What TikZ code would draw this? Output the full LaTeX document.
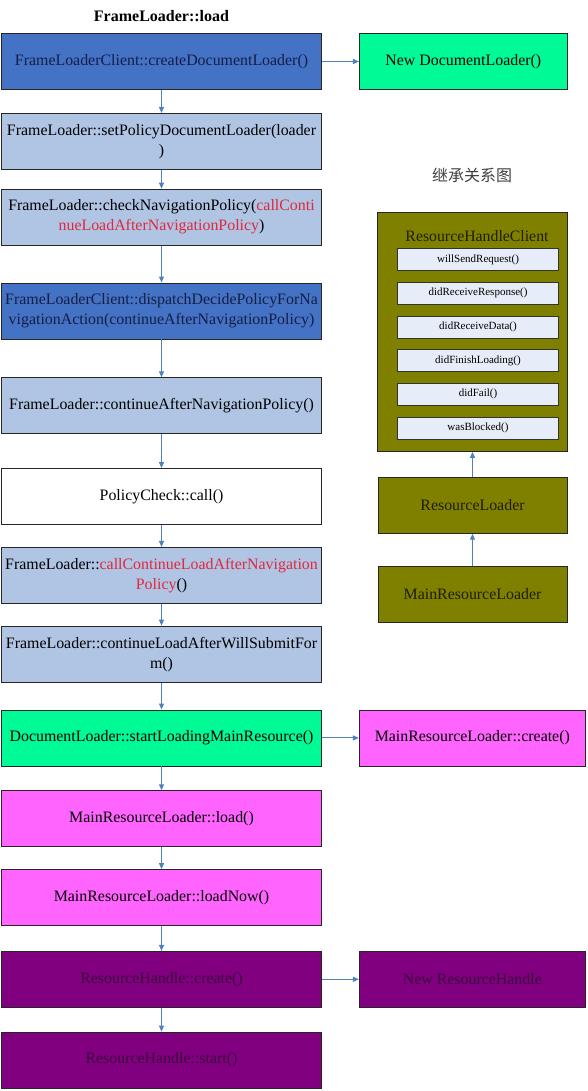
\documentclass[tikz,border=0pt]{standalone}
\usepackage{fontspec}
\setmainfont{Liberation Serif}
\newfontfamily\cjkfont{Noto Sans CJK SC}
\usetikzlibrary{arrows.meta,positioning}

\definecolor{darkblue}{RGB}{68,114,196}
\definecolor{lightblue}{RGB}{176,196,228}
\definecolor{springgreen}{RGB}{0,250,150}
\definecolor{pinkmag}{RGB}{255,100,255}
\definecolor{deeppurple}{RGB}{128,0,128}
\definecolor{olivebox}{RGB}{128,128,0}
\definecolor{methodfill}{RGB}{230,236,248}
\definecolor{arrowblue}{RGB}{79,129,189}
\definecolor{callred}{RGB}{225,40,60}

\begin{document}
\begin{tikzpicture}[x=1pt, y=-1pt,
    node distance=23pt,
    box/.style={draw=black!85, line width=0.8pt, minimum width=320pt,
                minimum height=56pt, inner sep=1pt, align=center,
                font=\fontsize{15.9}{20}\selectfont},
    darkbox/.style={box, fill=darkblue, text={rgb,255:red,20;green,30;blue,70}},
    lightbox/.style={box, fill=lightblue},
    plainbox/.style={box, fill=white},
    greenbox/.style={box, fill=springgreen},
    pinkbox/.style={box, fill=pinkmag},
    purplebox/.style={box, fill=deeppurple, text={rgb,255:red,60;green,0;blue,60}},
    olive/.style={box, fill=olivebox, minimum width=189pt, text={rgb,255:red,30;green,30;blue,0}},
    method/.style={draw=black!80, line width=0.7pt, fill=methodfill, minimum width=161pt,
                   minimum height=22pt, inner sep=1pt, font=\fontsize{11}{12}\selectfont},
    arr/.style={-{Triangle[length=6pt,width=5pt]}, line width=1.1pt, draw=arrowblue}
]
    \useasboundingbox (0,0) rectangle (587,1091);

    % main call sequence
    \node[darkbox] (createdl) at (161.5,61.5) {FrameLoaderClient::createDocumentLoader()};
    \node[font=\bfseries\fontsize{16}{18}\selectfont, above=8pt of createdl] (title) {FrameLoader::load};
    \node[lightbox, below=23pt of createdl] (setpolicy) {FrameLoader::setPolicyDocumentLoader(loader\\)};
    \node[lightbox, below=19pt of setpolicy] (checknav) {FrameLoader::checkNavigationPolicy(\textcolor{callred}{callConti}\\\textcolor{callred}{nueLoadAfterNavigationPolicy})};
    \node[darkbox, below=37pt of checknav] (dispatch) {FrameLoaderClient::dispatchDecidePolicyForNa\\vigationAction(continueAfterNavigationPolicy)};
    \node[lightbox, below=38pt of dispatch] (contnav) {FrameLoader::continueAfterNavigationPolicy()};
    \node[plainbox, below=34pt of contnav] (policycall) {PolicyCheck::call()};
    \node[lightbox, below=22pt of policycall] (callcont) {FrameLoader::\textcolor{callred}{callContinueLoadAfterNavigation}\\\textcolor{callred}{Policy}()};
    \node[lightbox, below=22pt of callcont] (submitform) {FrameLoader::continueLoadAfterWillSubmitFor\\m()};
    \node[greenbox, below=27pt of submitform] (startmain) {DocumentLoader::startLoadingMainResource()};
    \node[pinkbox, below=24pt of startmain] (mrlload) {MainResourceLoader::load()};
    \node[pinkbox, below=22pt of mrlload] (mrlnow) {MainResourceLoader::loadNow()};
    \node[purplebox, below=25pt of mrlnow] (rhcreate) {ResourceHandle::create()};
    \node[purplebox, below=24pt of rhcreate] (rhstart) {ResourceHandle::start()};

    % created objects
    \node[greenbox, minimum width=208pt, right=37pt of createdl] (newdl) {New DocumentLoader()};
    \node[pinkbox, minimum width=226pt, right=37pt of startmain] (mrlcreate) {MainResourceLoader::create()};
    \node[purplebox, minimum width=226pt, right=37pt of rhcreate] (newrh) {New ResourceHandle};

    \draw[arr] (createdl) -- (setpolicy);
    \draw[arr] (setpolicy) -- (checknav);
    \draw[arr] (checknav) -- (dispatch);
    \draw[arr] (dispatch) -- (contnav);
    \draw[arr] (contnav) -- (policycall);
    \draw[arr] (policycall) -- (callcont);
    \draw[arr] (callcont) -- (submitform);
    \draw[arr] (submitform) -- (startmain);
    \draw[arr] (startmain) -- (mrlload);
    \draw[arr] (mrlload) -- (mrlnow);
    \draw[arr] (mrlnow) -- (rhcreate);
    \draw[arr] (rhcreate) -- (rhstart);
    \draw[arr] (createdl) -- (newdl);
    \draw[arr] (startmain) -- (mrlcreate);
    \draw[arr] (rhcreate) -- (newrh);

    % inheritance
    \node[font=\cjkfont\fontsize{16}{18}\selectfont, text=black!75] (inhtitle) at (472,175) {继承关系图};
    \node[olive, minimum width=190pt, minimum height=239pt] (rhc) at (472.5,332) {};
    \node[font=\fontsize{15.8}{18}\selectfont, text={rgb,255:red,30;green,30;blue,0}, inner sep=1pt] (rhctitle) at (477,236) {ResourceHandleClient};
    \node[method] (m1) at (478,259.5) {willSendRequest()};
    \node[method, below=11pt of m1] (m2) {didReceiveResponse()};
    \node[method, below=11pt of m2] (m3) {didReceiveData()};
    \node[method, below=11pt of m3] (m4) {didFinishLoading()};
    \node[method, below=11pt of m4] (m5) {didFail()};
    \node[method, below=11pt of m5] (m6) {wasBlocked()};
    \node[olive, below=25pt of rhc] (rl) {ResourceLoader};
    \node[olive, below=32pt of rl] (mrl) {MainResourceLoader};

    \draw[arr] (rl) -- (rhc);
    \draw[arr] (mrl) -- (rl);
\end{tikzpicture}
\end{document}
